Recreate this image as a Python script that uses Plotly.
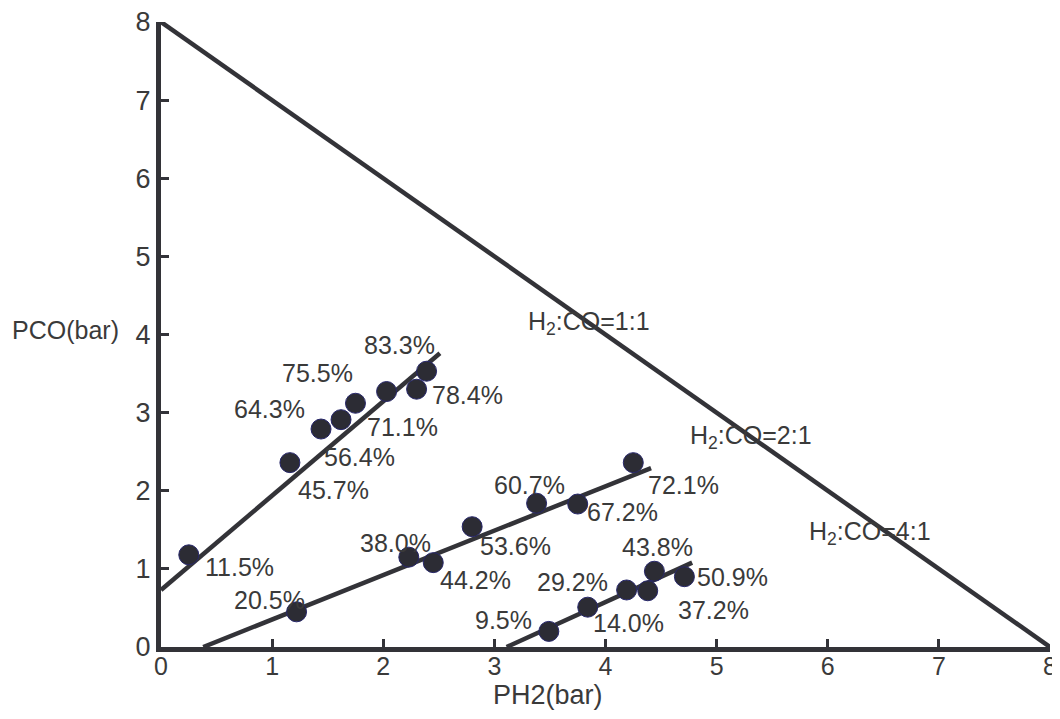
import plotly.graph_objects as go

# ---- data ----
# H2:CO = 1:1 series
s1_ph2 = [0.25, 1.16, 1.44, 1.62, 1.75, 2.03, 2.30, 2.39]
s1_pco = [1.18, 2.36, 2.79, 2.91, 3.12, 3.27, 3.30, 3.53]
s1_fit_x = [0.0, 2.51]
s1_fit_y = [0.73, 3.76]

# H2:CO = 2:1 series
s2_ph2 = [1.22, 2.23, 2.45, 2.80, 3.38, 3.75, 4.25]
s2_pco = [0.45, 1.15, 1.08, 1.54, 1.84, 1.83, 2.36]
s2_fit_x = [0.38, 4.41]
s2_fit_y = [0.0, 2.29]

# H2:CO = 4:1 series
s3_ph2 = [3.49, 3.84, 4.19, 4.38, 4.44, 4.71]
s3_pco = [0.20, 0.51, 0.73, 0.72, 0.97, 0.90]
s3_fit_x = [3.11, 4.78]
s3_fit_y = [0.0, 1.08]

# total pressure line PH2 + PCO = 8
total_x = [0, 8]
total_y = [8, 0]

# conversion labels (text, x, y)
pct_text = ["83.3%", "75.5%", "64.3%", "71.1%", "56.4%", "45.7%", "78.4%", "11.5%",
            "20.5%", "38.0%", "44.2%", "53.6%", "60.7%", "67.2%", "72.1%",
            "43.8%", "29.2%", "9.5%", "14.0%", "37.2%", "50.9%"]
pct_x = [2.15, 1.41, 0.98, 2.17, 1.79, 1.55, 2.76, 0.71,
         0.98, 2.11, 2.83, 3.19, 3.32, 4.15, 4.70,
         4.47, 3.70, 3.08, 4.21, 4.97, 5.14]
pct_y = [3.87, 3.51, 3.05, 2.82, 2.43, 2.01, 3.23, 1.02,
         0.60, 1.33, 0.86, 1.29, 2.07, 1.73, 2.07,
         1.28, 0.83, 0.35, 0.31, 0.47, 0.90]

ratio_text = ["H<sub>2</sub>:CO=1:1", "H<sub>2</sub>:CO=2:1", "H<sub>2</sub>:CO=4:1"]
ratio_x = [3.85, 5.31, 6.38]
ratio_y = [4.15, 2.69, 1.46]

x_ticks = [0, 1, 2, 3, 4, 5, 6, 7, 8]
y_ticks = [0, 1, 2, 3, 4, 5, 6, 7, 8]

# ---- styling ----
INK = "#333338"
TXT = "#3a3a3a"
FONT = "Liberation Sans, Arial, sans-serif"

fig = go.Figure()

line_style = dict(color=INK, width=4.5)
for fx, fy in [(total_x, total_y), (s1_fit_x, s1_fit_y), (s2_fit_x, s2_fit_y), (s3_fit_x, s3_fit_y)]:
    fig.add_trace(go.Scatter(x=fx, y=fy, mode="lines", line=line_style,
                             hoverinfo="skip", cliponaxis=False, showlegend=False))

marker_style = dict(size=20, color="#2c2c34", line=dict(color="#27276a", width=1))
for px, py in [(s1_ph2, s1_pco), (s2_ph2, s2_pco), (s3_ph2, s3_pco)]:
    fig.add_trace(go.Scatter(x=px, y=py, mode="markers", marker=marker_style,
                             cliponaxis=False, showlegend=False))

for t, x, y in zip(pct_text, pct_x, pct_y):
    fig.add_annotation(x=x, y=y, text=t, showarrow=False,
                       font=dict(family=FONT, size=25, color=TXT))
for t, x, y in zip(ratio_text, ratio_x, ratio_y):
    fig.add_annotation(x=x, y=y, text=t, showarrow=False,
                       font=dict(family=FONT, size=25, color=TXT))

# axis titles
fig.add_annotation(xref="paper", yref="paper", x=-0.107, y=0.507, text="PCO(bar)",
                   showarrow=False, xanchor="center", yanchor="middle",
                   font=dict(family=FONT, size=25, color=TXT))
fig.add_annotation(xref="paper", yref="paper", x=0.435, y=-0.077, text="PH2(bar)",
                   showarrow=False, xanchor="center", yanchor="middle",
                   font=dict(family=FONT, size=27, color=TXT))

axis_common = dict(range=[0, 8], showgrid=False, zeroline=False, showline=True,
                   linecolor=INK, linewidth=5, ticks="inside", ticklen=8,
                   tickwidth=3, tickcolor=INK, tickmode="array", automargin=False,
                   ticklabeloverflow="allow")

fig.update_xaxes(**axis_common, tickvals=x_ticks, ticktext=[str(v) for v in x_ticks],
                 ticklabelstandoff=-7, tickfont=dict(family=FONT, size=25, color=TXT))
fig.update_yaxes(**axis_common, tickvals=y_ticks, ticktext=[str(v) for v in y_ticks],
                 tickfont=dict(family=FONT, size=27, color=TXT))

# the page body adds an 8px margin, so the figure is 8px smaller on each side
fig.update_layout(
    width=1052, height=711,
    margin=dict(l=153, r=10, t=14, b=72, autoexpand=False),
    plot_bgcolor="white", paper_bgcolor="white",
    showlegend=False,
)

fig.write_html("out.html")
